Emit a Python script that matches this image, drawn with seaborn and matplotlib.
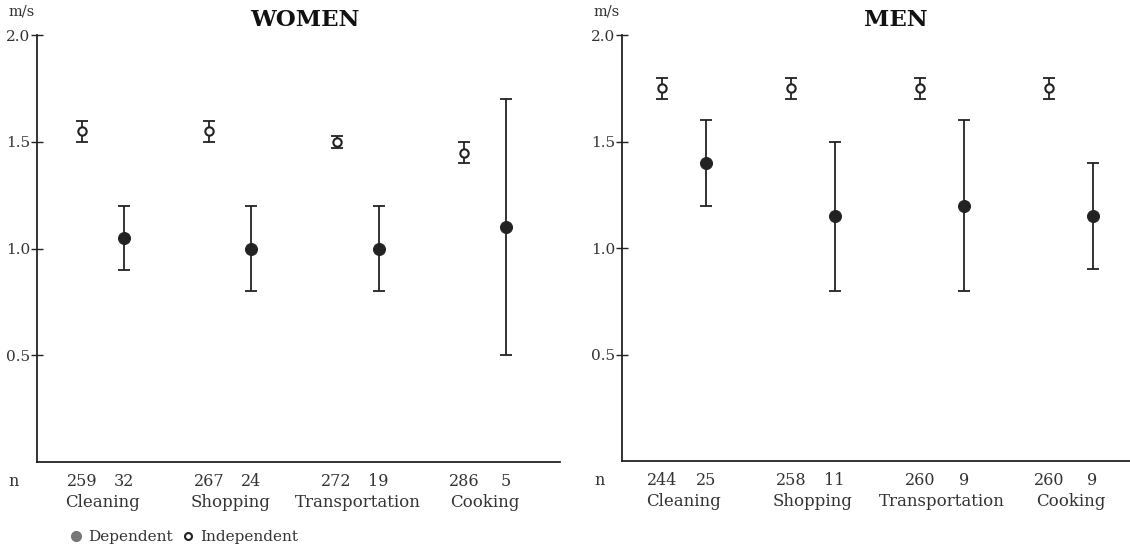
import seaborn as sns
import pandas as pd
import numpy as np
import matplotlib.pyplot as plt
from matplotlib.lines import Line2D
from matplotlib import transforms

sns.set_style("white")
plt.rcParams['font.family'] = ['DejaVu Serif', 'Liberation Serif']

# Data
tasks = ["Cleaning", "Shopping", "Transportation", "Cooking"]

women_ind_mean = [1.55, 1.55, 1.50, 1.45]
women_ind_lo = [1.50, 1.50, 1.47, 1.40]
women_ind_hi = [1.60, 1.60, 1.53, 1.50]
women_dep_mean = [1.05, 1.00, 1.00, 1.10]
women_dep_lo = [0.90, 0.80, 0.80, 0.50]
women_dep_hi = [1.20, 1.20, 1.20, 1.70]
women_n_ind = [259, 267, 272, 286]
women_n_dep = [32, 24, 19, 5]

men_ind_mean = [1.75, 1.75, 1.75, 1.75]
men_ind_lo = [1.70, 1.70, 1.70, 1.70]
men_ind_hi = [1.80, 1.80, 1.80, 1.80]
men_dep_mean = [1.40, 1.15, 1.20, 1.15]
men_dep_lo = [1.20, 0.80, 0.80, 0.90]
men_dep_hi = [1.60, 1.50, 1.60, 1.40]
men_n_ind = [244, 258, 260, 260]
men_n_dep = [25, 11, 9, 9]

ink = "#222222"
txt = "#333333"


def build(ind_m, ind_lo, ind_hi, dep_m, dep_lo, dep_hi, n_ind, n_dep, offset):
    rows = []
    for i, t in enumerate(tasks):
        rows.append(dict(task=t, group="Independent", x=i, m=ind_m[i],
                         lo=ind_lo[i], hi=ind_hi[i], n=n_ind[i]))
        rows.append(dict(task=t, group="Dependent", x=i + offset, m=dep_m[i],
                         lo=dep_lo[i], hi=dep_hi[i], n=n_dep[i]))
    return pd.DataFrame(rows)


def panel(ax, df, title, xlim, title_x):
    ind = df[df.group == "Independent"]
    dep = df[df.group == "Dependent"]
    ax.errorbar(dep.x, dep.m, yerr=[dep.m - dep.lo, dep.hi - dep.m], fmt="none",
                ecolor=ink, elinewidth=1.3, capsize=4.5, capthick=1.3, zorder=2)
    ax.errorbar(ind.x, ind.m, yerr=[ind.m - ind.lo, ind.hi - ind.m], fmt="none",
                ecolor=ink, elinewidth=1.3, capsize=4, capthick=1.3, zorder=2)
    sns.scatterplot(data=dep, x="x", y="m", ax=ax, s=75, color=ink,
                    edgecolor=ink, zorder=3, legend=False)
    sns.scatterplot(data=ind, x="x", y="m", ax=ax, s=36, color="white",
                    edgecolor=ink, linewidth=1.5, zorder=3, legend=False)
    ax.set_ylim(0, 2.0)
    ax.set_xlim(*xlim)
    ax.set_yticks([0.5, 1.0, 1.5, 2.0])
    ax.set_yticklabels(["0.5", "1.0", "1.5", "2.0"], fontsize=11, color=txt)
    ax.set_xticks([])
    ax.set_xlabel("")
    ax.set_ylabel("")
    ax.tick_params(axis="y", direction="inout", length=8, width=1, color=ink,
                   left=True, pad=1)
    for s in ["top", "right"]:
        ax.spines[s].set_visible(False)
    for s in ["left", "bottom"]:
        ax.spines[s].set_color(ink)
        ax.spines[s].set_linewidth(1.3)
    tr = transforms.blended_transform_factory(ax.transData, ax.transAxes)
    for _, r in df.iterrows():
        ax.text(r.x, -0.045, str(r.n), transform=tr, ha="center", va="center",
                fontsize=11.5, color=txt)
    for i, t in enumerate(tasks):
        mid = (df.x.iloc[2 * i] + df.x.iloc[2 * i + 1]) / 2
        ax.text(mid, -0.095, t, transform=tr, ha="center", va="center",
                fontsize=12, color=txt)
    ax.text(-0.045, -0.045, "n", transform=ax.transAxes, ha="center",
            va="center", fontsize=11.5, color=txt)
    ax.text(-0.03, 1.055, "m/s", transform=ax.transAxes, ha="center",
            va="center", fontsize=10.5, color=txt)
    ax.get_figure().text(title_x, 0.963, title, ha="center", va="center",
                         fontsize=16.5, fontweight="bold", color="#111111")


fig = plt.figure(figsize=(11.3, 5.51), dpi=100)
ax1 = fig.add_axes([0.0327, 0.1615, 0.4633, 0.7745])
ax2 = fig.add_axes([0.5504, 0.1633, 0.4496, 0.7727])

women = build(women_ind_mean, women_ind_lo, women_ind_hi, women_dep_mean,
              women_dep_lo, women_dep_hi, women_n_ind, women_n_dep, 0.33)
men = build(men_ind_mean, men_ind_lo, men_ind_hi, men_dep_mean,
            men_dep_lo, men_dep_hi, men_n_ind, men_n_dep, 0.34)

panel(ax1, women, "WOMEN", (-0.354, 3.76), 0.27)
panel(ax2, men, "MEN", (-0.31, 3.63), 0.793)

handles = [Line2D([], [], marker="o", linestyle="none", markersize=7,
                  markerfacecolor="#777777", markeredgecolor="#777777"),
           Line2D([], [], marker="o", linestyle="none", markersize=5,
                  markerfacecolor="white", markeredgecolor=ink, markeredgewidth=1.5)]
fig.legend(handles, ["Dependent", "Independent"], loc="center left",
           bbox_to_anchor=(0.048, 0.025), ncol=2, frameon=False, fontsize=11,
           handletextpad=0.3, columnspacing=0.5, handlelength=1.0,
           labelcolor=txt)

fig.savefig("out.png", dpi=100)
